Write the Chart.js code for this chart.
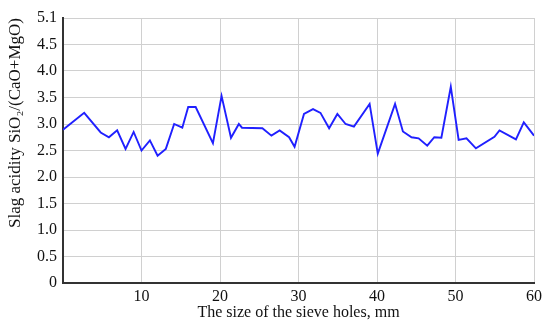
<!DOCTYPE html>
<html>
<head>
<meta charset="utf-8">
<script src="https://cdn.jsdelivr.net/npm/chart.js@4.4.1/dist/chart.umd.min.js"></script>
<style>
html,body{margin:0;padding:0;background:#fff;}
#wrap{width:542px;height:322px;position:relative;}
</style>
</head>
<body>
<div id="wrap"><canvas id="c" width="542" height="322"></canvas></div>
<script>
const sieveSize = [0, 2.7, 4.8, 5.85, 6.9, 7.97, 9.0, 10.0, 11.07, 12.05, 13.1, 14.16, 15.2, 15.95, 16.9, 19.1, 20.2, 21.4, 22.4, 22.8, 25.4, 26.55, 27.6, 28.8, 29.5, 30.7, 31.85, 32.8, 33.9, 34.95, 36.0, 37.06, 39.06, 40.1, 42.3, 43.3, 44.4, 45.3, 46.4, 47.3, 48.2, 49.4, 50.4, 51.4, 52.6, 54.96, 55.6, 57.7, 58.7, 60];
const acidity = [2.89, 3.21, 2.84, 2.75, 2.88, 2.53, 2.85, 2.50, 2.69, 2.40, 2.53, 3.00, 2.93, 3.32, 3.32, 2.64, 3.53, 2.74, 3.00, 2.93, 2.92, 2.78, 2.88, 2.75, 2.57, 3.19, 3.28, 3.21, 2.92, 3.19, 3.00, 2.95, 3.38, 2.44, 3.38, 2.86, 2.75, 2.73, 2.59, 2.75, 2.74, 3.70, 2.70, 2.73, 2.54, 2.76, 2.88, 2.71, 3.03, 2.78];
const yTickValues = [0, 0.5, 1.0, 1.5, 2.0, 2.5, 3.0, 3.5, 4.0, 4.5, 5.0];
const yTickLabels = ['0', '0.5', '1.0', '1.5', '2.0', '2.5', '3.0', '3.5', '4.0', '4.5', '5.1'];
const xTickValues = [0, 10, 20, 30, 40, 50, 60];
const xTickLabels = ['', '10', '20', '30', '40', '50', '60'];

const font = {family: "'Liberation Serif', 'Times New Roman', serif", size: 16};
const yTitleFont = {family: "'Liberation Serif', 'Times New Roman', serif", size: 17};
const pts = sieveSize.map((x, i) => ({x: x, y: acidity[i]}));

new Chart(document.getElementById('c'), {
  type: 'line',
  data: {datasets: [{
    data: pts,
    borderColor: '#2020ff',
    borderWidth: 1.9,
    pointRadius: 0,
    tension: 0,
    fill: false
  }]},
  options: {
    responsive: false,
    animation: false,
    layout: {padding: {top: 18, right: 8, left: 0, bottom: 0}},
    plugins: {legend: {display: false}, tooltip: {enabled: false}},
    scales: {
      x: {
        type: 'linear', min: 0, max: 60,
        afterBuildTicks: s => { s.ticks = xTickValues.map(v => ({value: v})); },
        ticks: {font: font, color: '#111', padding: 4, maxRotation: 0, autoSkip: false,
          callback: (v, i) => xTickLabels[i]},
        grid: {color: '#d0d0d0', lineWidth: 1, drawTicks: false},
        border: {color: '#333', width: 2},
        title: {display: true, text: 'The size of the sieve holes, mm', font: font, color: '#111', padding: {top: 0, bottom: 0}},
        afterFit: s => { s.height = 39; s.paddingRight = 0; s.paddingLeft = 0; }
      },
      y: {
        type: 'linear', min: 0, max: 5,
        afterBuildTicks: s => { s.ticks = yTickValues.map(v => ({value: v})); },
        ticks: {font: font, color: '#111', padding: 6, autoSkip: false,
          callback: (v, i) => yTickLabels[i]},
        grid: {color: '#d0d0d0', lineWidth: 1, drawTicks: false},
        border: {color: '#333', width: 2},
        title: {display: true, align: 'end', text: 'Slag acidity SiO₂/(CaO+MgO)', font: yTitleFont, color: '#111', padding: {top: 5, bottom: 4}},
        afterFit: s => { s.width = 63; s.paddingTop = 0; s.paddingBottom = 0; }
      }
    }
  }
});
</script>
</body>
</html>
